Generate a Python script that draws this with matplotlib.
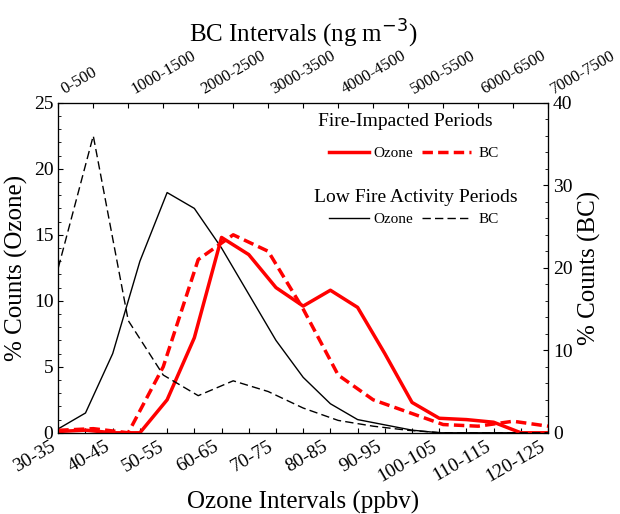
import numpy as np
import matplotlib.pyplot as plt
from matplotlib.lines import Line2D

plt.rcParams['font.family'] = ['Liberation Serif', 'DejaVu Serif']

# ozone intervals (bottom axis)
oz_labels = [f"{a}-{a+5}" for a in range(30, 125, 5)]
# BC intervals (top axis)
bc_labels = [f"{a}-{a+500}" for a in range(0, 7500, 500)]

# fire-impacted periods
fire_ozone = [0.1, 0.2, 0.0, 0.0, 2.5, 7.2, 14.8, 13.5, 11.0, 9.6, 10.8, 9.5, 6.0, 2.3, 1.1, 1.0, 0.8, 0.0, 0.0]
fire_bc = [0.3, 0.5, 0.0, 8.0, 21.0, 24.0, 22.0, 15.0, 7.0, 4.0, 2.5, 1.0, 0.8, 1.4, 0.8]
# low fire activity periods
low_ozone = [0.3, 1.5, 6.0, 13.0, 18.2, 17.0, 14.0, 10.5, 7.0, 4.2, 2.2, 1.0, 0.6, 0.2, 0.0, 0.0, 0.0, 0.0, 0.0]
low_bc = [20.0, 36.0, 13.6, 7.0, 4.5, 6.3, 5.0, 3.0, 1.5, 0.8, 0.3, 0.0, 0.0, 0.0, 0.0]

fig = plt.figure(figsize=(6.2, 5.14), dpi=100)
ax = fig.add_axes([0.094, 0.158, 0.79, 0.642])
ax.plot(range(len(oz_labels)), low_ozone, color='black', lw=1)
ax.plot(range(len(oz_labels)), fire_ozone, color='red', lw=2.5)
ax.set_xlim(0, len(oz_labels) - 1)
ax.set_ylim(0, 25)
ax.set_xticks(range(len(oz_labels)))
ax.set_xticklabels([l if i % 2 == 0 else '' for i, l in enumerate(oz_labels)],
                   rotation=30, ha='right', fontsize=13)
ax.set_yticks(range(0, 26, 5))
ax.set_yticks(np.arange(0, 25, 1), minor=True)
ax.tick_params(labelsize=14)
ax.set_xlabel('Ozone Intervals (ppbv)', fontsize=18)
ax.set_ylabel('% Counts (Ozone)', fontsize=18)

ax2 = ax.twinx()
ax3 = ax2.twiny()
ax3.plot(range(len(bc_labels)), low_bc, color='black', lw=1, ls=(0, (6, 3)))
ax3.plot(range(len(bc_labels)), fire_bc, color='red', lw=2.5, ls=(0, (3, 1.5)))
ax3.set_xlim(0, len(bc_labels) - 1)
ax2.set_ylim(0, 40)
ax3.set_ylim(0, 40)
ax3.set_xticks(range(len(bc_labels)))
ax3.set_xticklabels([l if i % 2 == 0 else '' for i, l in enumerate(bc_labels)],
                    rotation=30, ha='left', fontsize=12)
ax2.set_yticks(range(0, 41, 10))
ax2.set_yticks(range(0, 40, 2), minor=True)
ax2.tick_params(labelsize=14)
ax2.set_ylabel('% Counts (BC)', fontsize=18)
ax3.set_xlabel('BC Intervals (ng m$^{-3}$)', fontsize=18)

for a in (ax, ax2, ax3):
    a.tick_params(direction='in', which='both')

# legends
fig.text(0.653, 0.755, 'Fire-Impacted Periods', fontsize=14, ha='center')
fig.text(0.67, 0.607, 'Low Fire Activity Periods', fontsize=14, ha='center')
for y, col, lw in [(0.694, 'red', 2.5), (0.566, 'black', 1)]:
    fig.add_artist(Line2D([0.53, 0.595], [y + 0.01, y + 0.01], color=col, lw=lw))
    fig.text(0.602, y, 'Ozone', fontsize=11)
    fig.add_artist(Line2D([0.68, 0.76], [y + 0.01, y + 0.01], color=col, lw=lw,
                          ls=(0, (3, 1.5)) if col == 'red' else (0, (6, 3))))
    fig.text(0.772, y, 'BC', fontsize=11)

fig.savefig('out.png')
